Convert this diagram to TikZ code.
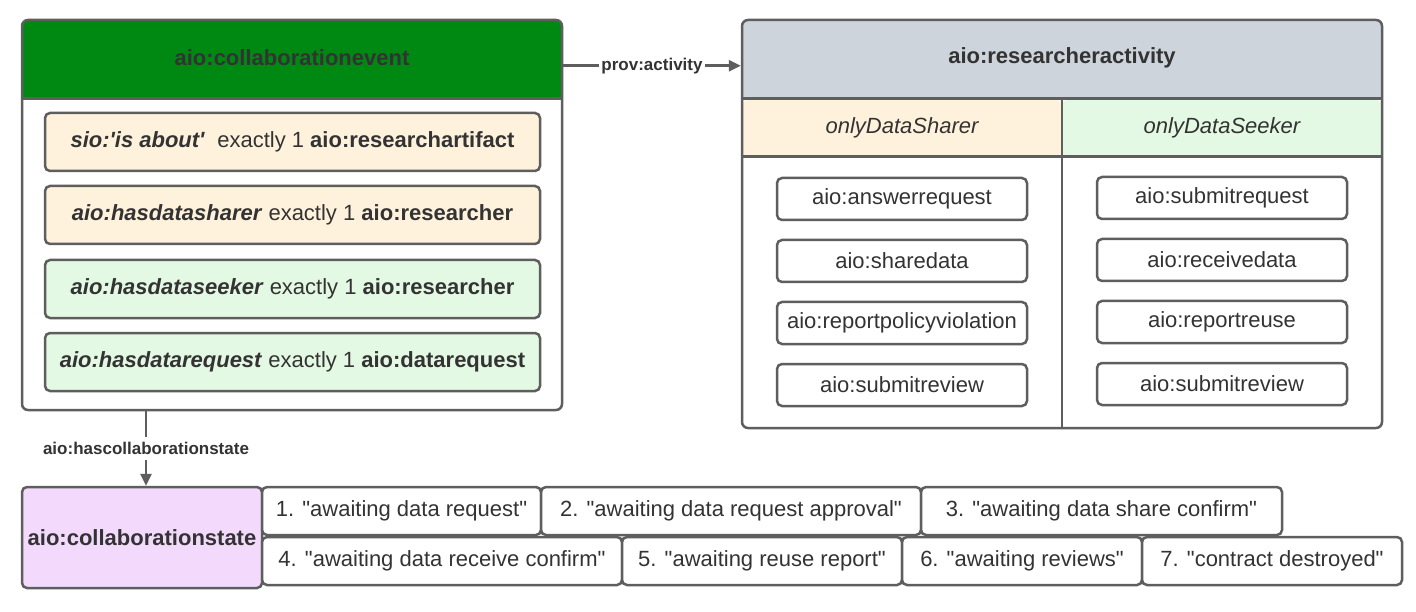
\documentclass[tikz,border=0pt]{standalone}
\usepackage{fontspec}
\setmainfont{Liberation Sans}
\usetikzlibrary{arrows.meta,calc}

\definecolor{edgegray}{HTML}{5E5E5E}
\definecolor{ink}{HTML}{333333}
\definecolor{hdgreen}{RGB}{0,137,18}
\definecolor{hdgray}{HTML}{CED4DC}
\definecolor{cream}{HTML}{FFF2DC}
\definecolor{mint}{HTML}{E3F9E3}
\definecolor{lilac}{HTML}{F3DAFC}

\newcommand{\qq}[1]{\textquotedbl #1\textquotedbl}

\begin{document}
\begin{tikzpicture}[x=1pt,y=-1pt,
  every node/.style={text=ink, font=\fontsize{22}{26}\selectfont},
  frame/.style={rectangle, draw=edgegray, line width=2.5pt, rounded corners=6pt, inner sep=0pt, fill=white},
  cell/.style={rectangle, draw=edgegray, line width=2.5pt, rounded corners=5pt, inner sep=0pt},
  rule/.style={draw=edgegray, line width=2.5pt},
  conn/.style={draw=edgegray, line width=2.5pt, -{Triangle[length=12pt,width=11pt]}},
  lbl/.style={fill=white, inner sep=2pt, font=\fontsize{17}{20}\selectfont\bfseries},
  title/.style={font=\fontsize{22}{26}\selectfont\bfseries},
]
\useasboundingbox (0,0) rectangle (1416,612);

% ---- collaboration event class ----
\node[frame, minimum width=540pt, minimum height=390pt,
  path picture={\fill[hdgreen] (path picture bounding box.north west) rectangle ([yshift=-80pt]path picture bounding box.north east);}]
  (ce) at (292,215) {};
\draw[rule] ([yshift=-80pt]ce.north west) -- ([yshift=-80pt]ce.north east);
\node[title] (ceh) at (292,58) {aio:collaborationevent};

\node[cell, fill=cream, minimum width=495pt, minimum height=58pt] (r1) at (292.5,142)
  {\textbf{\textit{sio:\textquotesingle is about\textquotesingle}}\ \ exactly 1 \textbf{aio:researchartifact}};
\node[cell, fill=cream, minimum width=495pt, minimum height=58pt] (r2) at (292.5,215)
  {\textbf{\textit{aio:hasdatasharer}} exactly 1 \textbf{aio:researcher}};
\node[cell, fill=mint, minimum width=495pt, minimum height=58pt] (r3) at (292.5,289)
  {\textbf{\textit{aio:hasdataseeker}} exactly 1 \textbf{aio:researcher}};
\node[cell, fill=mint, minimum width=495pt, minimum height=58pt] (r4) at (292.5,362)
  {\textbf{\textit{aio:hasdatarequest}} exactly 1 \textbf{aio:datarequest}};

% ---- researcher activity class ----
\node[frame, minimum width=640pt, minimum height=408pt,
  path picture={
    \fill[hdgray] (path picture bounding box.north west) rectangle ([yshift=-80pt]path picture bounding box.north east);
    \fill[cream] ([yshift=-80pt]path picture bounding box.north west) rectangle ([yshift=-138pt]path picture bounding box.north);
    \fill[mint] ([yshift=-80pt]path picture bounding box.north) rectangle ([yshift=-138pt]path picture bounding box.north east);
  }]
  (ra) at (1062,224) {};
\draw[rule] ([yshift=-80pt]ra.north west) -- ([yshift=-80pt]ra.north east);
\draw[rule] ([yshift=-138pt]ra.north west) -- ([yshift=-138pt]ra.north east);
\draw[rule] ([yshift=-80pt]ra.north) -- (ra.south);
\node[title] (rah) at (1062,58) {aio:researcheractivity};
\node[font=\fontsize{22}{26}\selectfont\itshape] (sh) at (902,128) {onlyDataSharer};
\node[font=\fontsize{22}{26}\selectfont\itshape] (sk) at (1222,128) {onlyDataSeeker};

\foreach \name/\y/\txt in {a1/199/aio:answerrequest, a2/261/aio:sharedata, a3/323/aio:reportpolicyviolation, a4/385/aio:submitreview}
  \node[cell, fill=white, minimum width=250pt, minimum height=42pt] (\name) at (902,\y) {\txt};
\foreach \name/\y/\txt in {b1/198/aio:submitrequest, b2/260/aio:receivedata, b3/322/aio:reportreuse, b4/384/aio:submitreview}
  \node[cell, fill=white, minimum width=250pt, minimum height=42pt] (\name) at (1222,\y) {\txt};

% ---- collaboration state ----
\node[cell, fill=lilac, minimum width=240pt, minimum height=101pt] (cs) at (142,537.5) {\textbf{aio:collaborationstate}};

\node[cell, fill=white, minimum width=279pt, minimum height=48pt] (s1) at (401.5,511) {1. \qq{awaiting data request}};
\node[cell, fill=white, minimum width=380pt, minimum height=48pt] (s2) at (731,511) {2. \qq{awaiting data request approval}};
\node[cell, fill=white, minimum width=361pt, minimum height=48pt] (s3) at (1101.5,511) {3. \qq{awaiting data share confirm}};
\node[cell, fill=white, minimum width=360pt, minimum height=48pt] (s4) at (442,561) {4. \qq{awaiting data receive confirm}};
\node[cell, fill=white, minimum width=280pt, minimum height=48pt] (s5) at (762,561) {5. \qq{awaiting reuse report}};
\node[cell, fill=white, minimum width=240pt, minimum height=48pt] (s6) at (1022,561) {6. \qq{awaiting reviews}};
\node[cell, fill=white, minimum width=260pt, minimum height=48pt] (s7) at (1272,561) {7. \qq{contract destroyed}};

% ---- connectors ----
\coordinate (pa) at ($(ce.north east)+(0,47)$);
\draw[conn] (pa) -- node[lbl] {prov:activity} (pa -| ra.west);
\coordinate (hc) at (ce.south -| 146,0);
\draw[conn] (hc) -- node[lbl, inner ysep=5pt] {aio:hascollaborationstate} (hc |- cs.north);
\end{tikzpicture}
\end{document}
